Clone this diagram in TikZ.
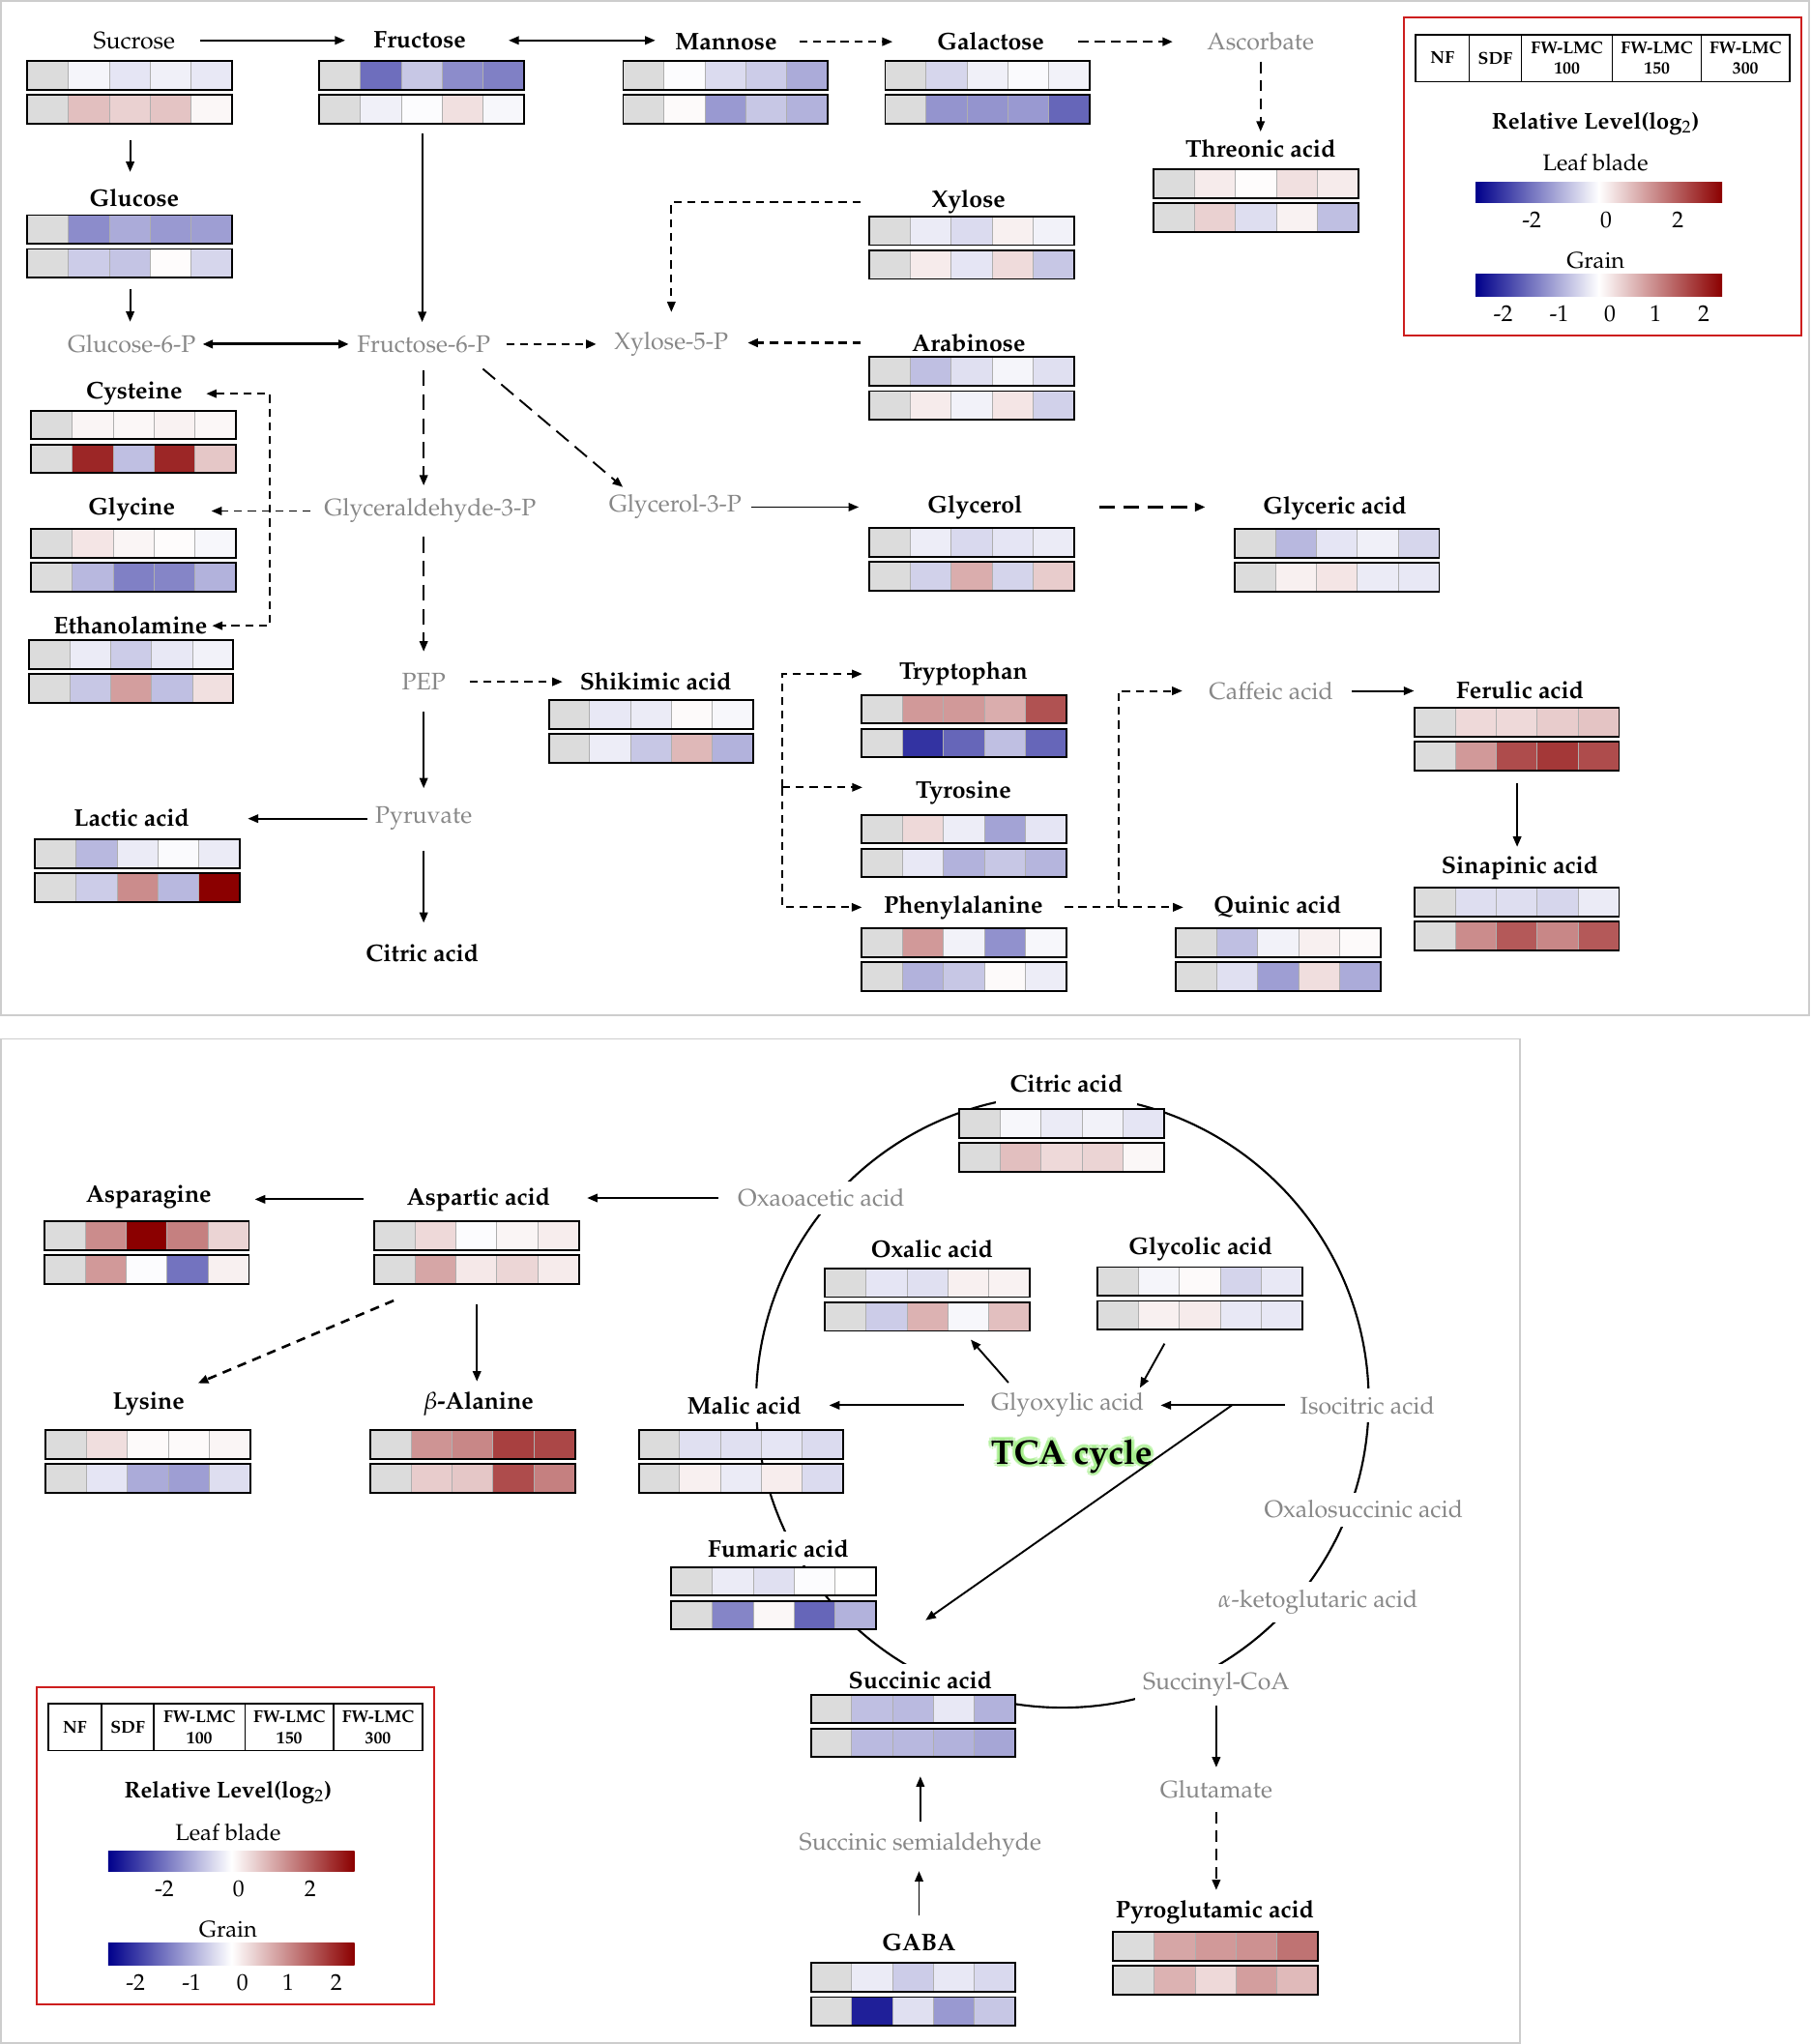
\documentclass[tikz,border=0pt]{standalone}
\usepackage[T1]{fontenc}
\usepackage{mathpazo}
\usetikzlibrary{arrows.meta}

\definecolor{lowc}{RGB}{0,0,139}
\definecolor{highc}{RGB}{139,0,0}
\definecolor{nfgrey}{RGB}{220,220,220}
\definecolor{sepgrey}{RGB}{175,175,175}
\definecolor{interc}{RGB}{135,135,135}
\definecolor{framec}{RGB}{205,205,205}
\definecolor{legendred}{RGB}{205,30,30}
\definecolor{glowc}{RGB}{150,235,120}

\tikzset{
  metab/.style={font=\fontsize{10.5}{12}\selectfont\bfseries, inner sep=0pt},
  inter/.style={font=\fontsize{10.5}{12}\selectfont, text=interc, inner sep=0pt},
  tcalab/.style={fill=white, inner sep=0.12cm},
  hdr/.style={font=\fontsize{7.5}{9}\selectfont\bfseries, align=center, inner sep=0pt},
  lgtitle/.style={font=\fontsize{10}{12}\selectfont\bfseries, inner sep=0pt},
  lgtext/.style={font=\fontsize{10}{12}\selectfont, inner sep=0pt},
  conn/.style={line width=0.8pt, -{Triangle[length=4.5pt,width=3.6pt]}},
  biconn/.style={line width=0.8pt, {Triangle[length=4.5pt,width=3.6pt]}-{Triangle[length=4.5pt,width=3.6pt]}},
  dconn/.style={conn, dash pattern=on 3.5pt off 2.5pt},
  bidconn/.style={biconn, dash pattern=on 3.5pt off 2.5pt},
  ldconn/.style={conn, dash pattern=on 7pt off 3.5pt},
  cgap/.style 2 args={shorten <=#1, shorten >=#2},
}

% one row of five cells, values in percent of the colour scale
\newcommand{\hmrow}[2]{%
  \fill[nfgrey] (0,#1) rectangle ++(31.4,22);
  \foreach \v [count=\i] in {#2}{%
    \ifnum\v<0 \pgfmathtruncatemacro\p{abs(\v)}\colorlet{cellc}{lowc!\p!white}%
    \else\colorlet{cellc}{highc!\v!white}\fi
    \fill[cellc] (\i*31.4,#1) rectangle ++(31.4,22);}
  \foreach \i in {1,...,4}{\draw[sepgrey, line width=0.4pt] (\i*31.4,#1) -- ++(0,22);}
  \draw[line width=0.8pt] (0,#1) rectangle ++(157,22);}

% leaf blade row and grain row
\newcommand{\heatmap}[5]{%
  \begin{scope}[shift={(#2,#3)}]
    \hmrow{0}{#4}
    \hmrow{26}{#5}
  \end{scope}
  \path (#2,#3) node[anchor=north west, inner sep=0pt, minimum width=3.14cm, minimum height=0.96cm] (#1hm) {};}

% legend box
\newcommand{\legendbox}[3]{%
  \begin{scope}[shift={(#2,#3)}]
    \draw[legendred, line width=0.8pt] (0,0) rectangle (305,243.5);
    \draw[line width=0.6pt] (9,13) rectangle (296,49);
    \foreach \xx in {50,90,160,228}{\draw[line width=0.6pt] (\xx,13) -- (\xx,49);}
    \node[hdr] (#1nf) at (29.5,31) {NF};
    \node[hdr] (#1sdf) at (70,31) {SDF};
    \node[hdr] (#1a) at (125,31) {FW-LMC\\100};
    \node[hdr] (#1b) at (194,31) {FW-LMC\\150};
    \node[hdr] (#1c) at (262,31) {FW-LMC\\300};
    \node[lgtitle] (#1title) at (147,81) {Relative Level(log$_2$)};
    \node[lgtext] (#1leaf) at (147,111.5) {Leaf blade};
    \shade[left color=lowc, right color=highc, middle color=white] (55,126) rectangle (244,141.5);
    \node[lgtext] (#1la) at (98,155) {-2};
    \node[lgtext] (#1lb) at (155,155) {0};
    \node[lgtext] (#1lc) at (210,155) {2};
    \node[lgtext] (#1grain) at (147,186) {Grain};
    \shade[left color=lowc, right color=highc, middle color=white] (55,196.5) rectangle (244,213.5);
    \node[lgtext] (#1ga) at (76,227) {-2};
    \node[lgtext] (#1gb) at (119,227) {-1};
    \node[lgtext] (#1gc) at (158,227) {0};
    \node[lgtext] (#1gd) at (193,227) {1};
    \node[lgtext] (#1ge) at (230,227) {2};
  \end{scope}}

\begin{document}
\begin{tikzpicture}[x=0.02cm, y=-0.02cm]
\useasboundingbox (0,0) rectangle (1389,1568);

% panel frames
\draw[framec, line width=0.8pt] (0.5,0.5) rectangle (1388,779);
\draw[framec, line width=0.8pt] (0.5,797) rectangle (1166,1567.5);

% TCA ring
\coordinate (tca) at (815,1075);
\draw[line width=0.9pt] (tca) circle[radius=4.7cm];

% ---------- upper panel: labels ----------
\node[metab, font=\fontsize{10.5}{12}\selectfont] (sucrose) at (103,31) {Sucrose};
\node[metab] (fructose) at (322,31) {Fructose};
\node[metab] (mannose) at (557,32) {Mannose};
\node[metab] (galactose) at (760,32) {Galactose};
\node[inter] (ascorbate) at (967,32) {Ascorbate};
\node[metab] (threonic) at (967,114) {Threonic acid};
\node[metab] (glucose) at (103,152) {Glucose};
\node[metab] (xylose) at (743,155) {Xylose};
\node[inter] (g6p) at (101,264) {Glucose-6-P};
\node[inter] (f6p) at (325,264) {Fructose-6-P};
\node[inter] (xylose5p) at (515,264) {Xylose-5-P};
\node[metab] (arabinose) at (743,263) {Arabinose};
\node[metab] (cysteine) at (103,302) {Cysteine};
\node[metab] (glycine) at (101,391) {Glycine};
\node[inter] (g3p) at (330,392) {Glyceraldehyde-3-P};
\node[inter] (glycerolp) at (518,389) {Glycerol-3-P};
\node[metab] (glycerol) at (748,389) {Glycerol};
\node[metab] (glyceric) at (1024,390) {Glyceric acid};
\node[metab] (ethanolamine) at (100,480) {Ethanolamine};
\node[inter] (pep) at (325,523) {PEP};
\node[metab] (shikimic) at (503,523) {Shikimic acid};
\node[metab] (tryptophan) at (739,517) {Tryptophan};
\node[metab] (tyrosine) at (739,608) {Tyrosine};
\node[metab] (phenylalanine) at (739,696) {Phenylalanine};
\node[inter] (caffeic) at (975,530) {Caffeic acid};
\node[metab] (ferulic) at (1166,529) {Ferulic acid};
\node[metab] (sinapinic) at (1166,666) {Sinapinic acid};
\node[metab] (quinic) at (980,696) {Quinic acid};
\node[metab] (lactic) at (101,627) {Lactic acid};
\node[inter] (pyruvate) at (325,628) {Pyruvate};
\node[metab] (citrictop) at (324,731) {Citric acid};

% ---------- lower panel: labels ----------
\node[metab, tcalab, inner xsep=0.22cm, inner ysep=0.2cm] (citric) at (818,831) {Citric acid};
\node[inter, tcalab] (oxaoacetic) at (630,919) {Oxaoacetic acid};
\node[metab] (asparagine) at (114,918) {Asparagine};
\node[metab] (aspartic) at (367,920) {Aspartic acid};
\node[metab] (oxalic) at (715,958) {Oxalic acid};
\node[metab] (glycolic) at (921,958) {Glycolic acid};
\node[metab] (lysine) at (114,1077) {Lysine};
\node[metab] (balanine) at (367,1077) {$\beta$-Alanine};
\node[metab, tcalab] (malic) at (571,1078) {Malic acid};
\node[inter] (glyoxylic) at (819,1078) {Glyoxylic acid};
\node[inter, tcalab] (isocitric) at (1049,1078) {Isocitric acid};
\node[inter, tcalab] (oxalosuccinic) at (1046,1158) {Oxalosuccinic acid};
\node[metab, tcalab] (fumaric) at (597,1188) {Fumaric acid};
\node[inter, tcalab] (aketo) at (1011,1229) {$\alpha$-ketoglutaric acid};
\node[metab, tcalab] (succinic) at (706,1289) {Succinic acid};
\node[inter, tcalab] (succinylcoa) at (933,1292) {Succinyl-CoA};
\node[inter] (glutamate) at (933,1373) {Glutamate};
\node[inter] (semiald) at (706,1415) {Succinic semialdehyde};
\node[metab] (gaba) at (705,1490) {GABA};
\node[metab] (pyroglutamic) at (932,1467) {Pyroglutamic acid};

% TCA cycle title with glow
\foreach \ang in {0,45,...,315}{
  \node[metab, font=\fontsize{15}{18}\selectfont\bfseries, text=glowc, opacity=0.45, shift={(\ang:1.5pt)}] (tcaglow\ang) at (822,1117) {TCA cycle};}
\node[metab, font=\fontsize{15}{18}\selectfont\bfseries] (tcatext) at (822,1117) {TCA cycle};

% ---------- heat maps ----------
\heatmap{sucrose}{21}{47}{-4,-10,-6,-9}{25,18,23,3}
\heatmap{fructose}{245}{47}{-57,-22,-45,-50}{-6,-1,12,-3}
\heatmap{mannose}{478}{47}{-1,-14,-20,-33}{2,-40,-22,-30}
\heatmap{galactose}{679}{47}{-16,-6,-2,-5}{-42,-42,-40,-60}
\heatmap{threonic}{885}{130}{8,1,12,8}{18,-13,5,-25}
\heatmap{glucose}{21}{165}{-45,-33,-40,-38}{-20,-23,1,-16}
\heatmap{xylose}{667}{166}{-8,-14,6,-5}{8,-10,14,-22}
\heatmap{arabinose}{667}{274}{-25,-12,-4,-12}{8,-5,10,-18}
\heatmap{cysteine}{24}{315}{4,3,5,3}{85,-25,85,22}
\heatmap{glycine}{24}{406}{10,4,1,-3}{-28,-50,-48,-30}
\heatmap{glycerol}{667}{405}{-7,-15,-10,-8}{-18,32,-17,20}
\heatmap{glyceric}{947}{406}{-28,-10,-6,-16}{6,10,-8,-9}
\heatmap{ethanolamine}{22}{491}{-8,-20,-9,-5}{-22,38,-25,12}
\heatmap{shikimic}{421}{537}{-9,-8,2,-3}{-7,-22,28,-30}
\heatmap{tryptophan}{661}{533}{40,40,32,68}{-80,-60,-25,-60}
\heatmap{tyrosine}{661}{625}{15,-7,-36,-10}{-9,-30,-22,-29}
\heatmap{phenylalanine}{661}{712}{40,-5,-43,-3}{-30,-22,2,-7}
\heatmap{ferulic}{1085}{543}{15,15,20,23}{40,70,78,70}
\heatmap{sinapinic}{1085}{681}{-13,-13,-16,-8}{45,65,47,65}
\heatmap{quinic}{902}{712}{-25,-5,6,2}{-12,-38,13,-33}
\heatmap{lactic}{27}{644}{-28,-8,-2,-8}{-20,45,-28,100}
\heatmap{citric}{736}{851}{-3,-8,-5,-10}{25,15,17,3}
\heatmap{asparagine}{34}{937}{45,100,50,17}{40,-1,-55,6}
\heatmap{aspartic}{287}{937}{15,-1,4,7}{35,9,16,8}
\heatmap{oxalic}{633}{973}{-10,-12,6,5}{-20,30,-3,25}
\heatmap{glycolic}{842}{972}{-4,2,-17,-9}{6,8,-9,-9}
\heatmap{lysine}{35}{1097}{13,2,2,4}{-10,-33,-38,-13}
\heatmap{balanine}{284}{1097}{42,47,75,72}{20,22,70,50}
\heatmap{malic}{490}{1097}{-12,-12,-10,-14}{6,-8,7,-14}
\heatmap{fumaric}{515}{1202}{-8,-12,-1,0}{-48,3,-60,-30}
\heatmap{succinic}{622}{1300}{-25,-27,-9,-30}{-27,-28,-30,-35}
\heatmap{gaba}{622}{1506}{-8,-20,-9,-15}{-88,-12,-40,-22}
\heatmap{pyroglutamic}{854}{1482}{35,40,43,55}{30,15,38,27}

% ---------- upper panel: connectors ----------
\draw[conn, cgap={0.37cm}{0.43cm}] (sucrose.east) -- (sucrose.east -| fructose.west);
\draw[biconn, cgap={0.65cm}{0.3cm}] (fructose.east) -- (fructose.east -| mannose.west);
\draw[dconn, cgap={0.34cm}{0.68cm}] (mannose.east) -- (mannose.east -| galactose.west);
\draw[dconn, line width=1.1pt, dash pattern=on 4.5pt off 2.5pt, cgap={0.52cm}{0.52cm}] (galactose.east) -- (galactose.east -| ascorbate.west);
\draw[dconn, dash pattern=on 5pt off 3pt, cgap={0.16cm}{0.12cm}] (ascorbate.south) -- (ascorbate.south |- threonic.north);
\draw[conn, cgap={0.24cm}{0.26cm}] (sucrosehm.south) -- (sucrosehm.south |- glucose.north);
\draw[conn, cgap={0.16cm}{0.2cm}] (glucosehm.south) -- (glucosehm.south |- g6p.north);
\draw[conn, cgap={0.14cm}{0.2cm}] (fructosehm.south) -- (fructosehm.south |- f6p.north);
\draw[biconn, line width=1.3pt, cgap={0.1cm}{0.12cm}] (g6p.east) -- (g6p.east -| f6p.west);
\draw[dconn, line width=1.1pt, cgap={0.24cm}{0.27cm}] (f6p.east) -- (f6p.east -| xylose5p.west);
\draw[dconn, line width=1.1pt, cgap={0.78cm}{0.29cm}] (arabinose.west) -- (arabinose.west -| xylose5p.east);
\draw[dconn, cgap={1.09cm}{0.3cm}] (xylose.west) -| (xylose5p.north);
\draw[ldconn, cgap={0.26cm}{0.2cm}] (f6p.south) -- (f6p.south |- g3p.north);
\draw[ldconn] ([xshift=-0.12cm,yshift=-0.24cm]f6p.south east) -- ([xshift=0.22cm,yshift=0.115cm]glycerolp.north west);
\draw[conn, cgap={0.14cm}{1.05cm}] (glycerolp.east) -- (glycerolp.east -| glycerol.west);
\draw[ldconn, line width=1.3pt, cgap={1.17cm}{0.88cm}] (glycerol.east) -- (glycerol.east -| glyceric.west);
\draw[dconn, cgap={0.2cm}{0.55cm}] (g3p.west) -- (g3p.west -| glycine.east);
\coordinate (gbranch) at (207,391);
\draw[bidconn, cgap={0.36cm}{0.07cm}] (cysteine.east) -| (gbranch) |- (ethanolamine.east);
\draw[ldconn, cgap={0.2cm}{0.33cm}] (pep.north |- g3p.south) -- (pep.north);
\draw[dconn, cgap={0.36cm}{0.26cm}] (pep.east) -- (pep.east -| shikimic.west);
\draw[conn, cgap={0.33cm}{0.28cm}] (pep.south) -- (pyruvate.north);
\draw[conn, cgap={0.12cm}{0.89cm}] (pyruvate.west) -- (pyruvate.west -| lactic.east);
\draw[conn, cgap={0.3cm}{0.32cm}] (pyruvate.south) -- (pyruvate.south |- citrictop.north);
\coordinate (arobranch) at (600,604);
\draw[dconn, shorten >=0.56cm] (arobranch) |- (tryptophan.west);
\draw[dconn, shorten >=0.81cm] (arobranch) -- (arobranch -| tyrosine.west);
\draw[dconn, shorten >=0.33cm] (arobranch) |- (phenylalanine.west);
\draw[dconn, cgap={0.33cm}{0.46cm}] (phenylalanine.east) -- (phenylalanine.east -| quinic.west);
\coordinate (phebranch) at (858,696);
\draw[dconn, shorten >=0.4cm] (phebranch) |- (caffeic.west);
\draw[conn, cgap={0.28cm}{0.64cm}] (caffeic.east) -- (caffeic.east -| ferulic.west);
\draw[conn, cgap={0.18cm}{0.14cm}] (ferulichm.south) -- (ferulichm.south |- sinapinic.north);

% ---------- lower panel: connectors ----------
\draw[conn, cgap={0.18cm}{0.56cm}] (oxaoacetic.west) -- (oxaoacetic.west -| aspartic.east);
\draw[conn, cgap={0.66cm}{0.66cm}] (aspartic.west) -- (aspartic.west -| asparagine.east);
\draw[conn, cgap={0.3cm}{0.155cm}] (aspartichm.south) -- (aspartichm.south |- balanine.north);
\draw[dconn, line width=1.1pt, dash pattern=on 4pt off 3pt] ([xshift=0.3cm,yshift=-0.24cm]aspartichm.south west) -- ([xshift=0.2cm,yshift=0.135cm]lysine.north east);
\draw[conn, cgap={0.41cm}{0.3cm}] (glyoxylic.west) -- (glyoxylic.west -| malic.east);
\draw[conn, cgap={0.11cm}{0.25cm}] (isocitric.west) -- (isocitric.west -| glyoxylic.east);
\coordinate (isobranch) at (945,1078);
\draw[conn] (isobranch) -- ([xshift=0.08cm,yshift=0.66cm]succinic.north);
\draw[conn] ([xshift=0.27cm,yshift=0.155cm]glyoxylic.north west) -- ([xshift=-0.92cm,yshift=-0.12cm]oxalichm.south east);
\draw[conn] ([xshift=-0.55cm,yshift=-0.2cm]glycolichm.south) -- ([xshift=-0.07cm,yshift=0.075cm]glyoxylic.north east);
\draw[conn, cgap={0.02cm}{0.2cm}] (succinylcoa.south) -- (succinylcoa.south |- glutamate.north);
\draw[dconn, dash pattern=on 5pt off 3pt, cgap={0.2cm}{0.155cm}] (glutamate.south) -- (glutamate.south |- pyroglutamic.north);
\draw[conn, cgap={0.155cm}{0.28cm}] (semiald.north) -- (semiald.north |- succinichm.south);
\draw[conn, cgap={0.27cm}{0.215cm}] (gaba.north) -- (gaba.north |- semiald.south);

% ---------- legends ----------
\legendbox{lgtop}{1077}{13.6}
\legendbox{lgbot}{28}{1294}
\end{tikzpicture}
\end{document}
